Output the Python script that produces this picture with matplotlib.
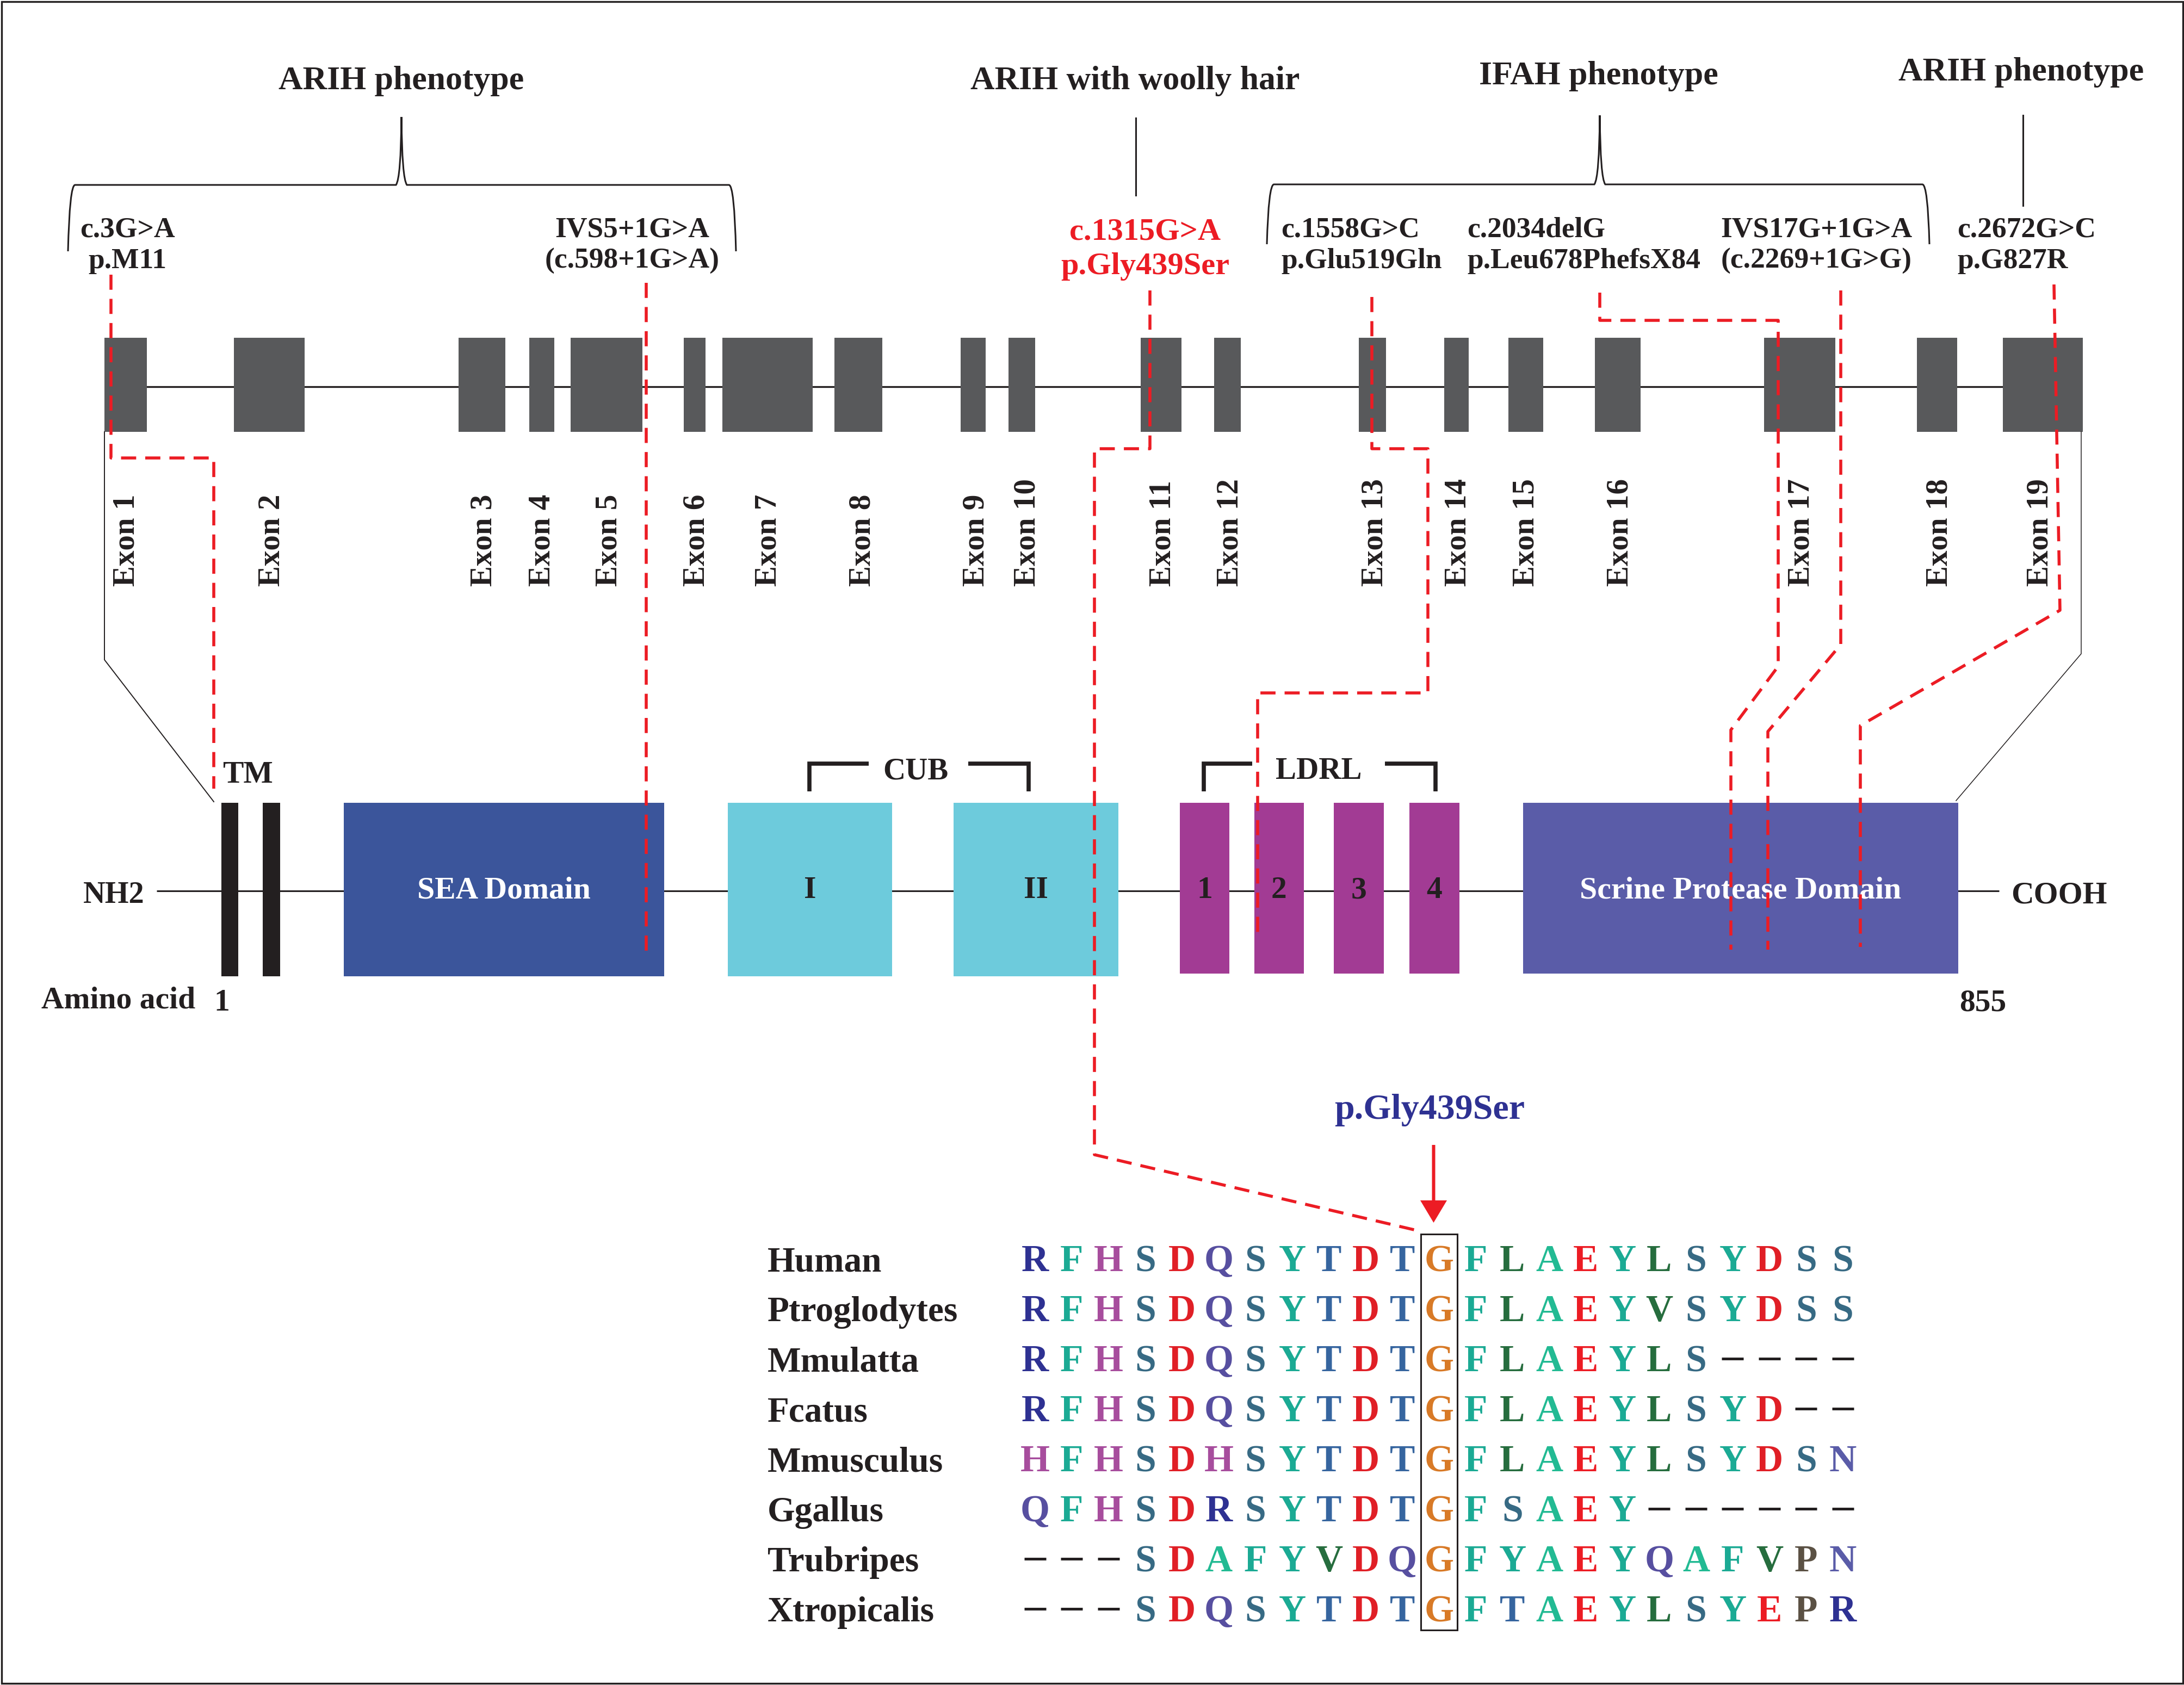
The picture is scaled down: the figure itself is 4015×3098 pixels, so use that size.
import matplotlib
matplotlib.use("Agg")
import matplotlib.pyplot as plt
import matplotlib.patches as patches
from matplotlib.path import Path

plt.rcParams['font.family'] = ['Liberation Serif', 'DejaVu Serif']
plt.rcParams['font.weight'] = 'bold'

W, H = 4016, 3098
RED = '#EC1C24'
INK = '#231F20'

# ---- gene structure (schematic pixel positions) ----
exon_names = [f"Exon {i}" for i in range(1, 20)]
exon_left = [192, 430, 843, 973, 1049, 1257, 1328, 1534, 1766, 1854,
             2097, 2232, 2498, 2655, 2773, 2932, 3243, 3524, 3682]
exon_right = [270, 560, 929, 1019, 1181, 1297, 1494, 1622, 1812, 1903,
              2172, 2281, 2548, 2700, 2837, 3016, 3374, 3598, 3829]
exon_label_x = [229, 496, 886, 993, 1116, 1277, 1409, 1582, 1791, 1885,
                2134, 2258, 2524, 2677, 2802, 2975, 3308, 3562, 3747]

# ---- protein domains ----
domain_labels = ["", "", "SEA Domain", "I", "II", "1", "2", "3", "4", "Scrine Protease Domain"]
domain_left = [407, 483, 632, 1338, 1753, 2169, 2306, 2452, 2591, 2800]
domain_right = [438, 515, 1221, 1640, 2056, 2260, 2397, 2544, 2683, 3600]
domain_bottom = [1795, 1795, 1795, 1795, 1795, 1790, 1790, 1790, 1790, 1790]
domain_colors = [INK, INK, '#3B559B', '#6DCBDC', '#6DCBDC',
                 '#A23B94', '#A23B94', '#A23B94', '#A23B94', '#5A5CA8']
domain_text_colors = [INK, INK, 'white', INK, INK, INK, INK, INK, INK, 'white']

# ---- mutations ----
mut_line1 = ["c.3G>A", "IVS5+1G>A", "c.1315G>A", "c.1558G>C", "c.2034delG", "IVS17G+1G>A", "c.2672G>C"]
mut_line2 = ["p.M11", "(c.598+1G>A)", "p.Gly439Ser", "p.Glu519Gln", "p.Leu678PhefsX84", "(c.2269+1G>G)", "p.G827R"]
mut_x = [234, 1162, 2105, 2355, 2697, 3339, 3598]
mut_ha = ['center', 'center', 'center', 'left', 'left', 'center', 'left']
mut_highlight = [False, False, True, False, False, False, False]

# dashed connectors: mutation -> exon -> protein position
mut_paths = [
    [(204, 505), (204, 842), (393, 842), (393, 1450)],
    [(1188, 520), (1188, 1748)],
    [(2114, 534), (2114, 825), (2012, 825), (2012, 2123), (2608, 2263)],
    [(2522, 546), (2522, 825), (2625, 825), (2625, 1274), (2312, 1274), (2312, 1727)],
    [(2941, 538), (2941, 589), (3269, 589), (3269, 1225), (3182, 1342), (3182, 1746)],
    [(3384, 534), (3384, 1185), (3250, 1345), (3250, 1746)],
    [(3776, 523), (3787, 1122), (3420, 1334), (3420, 1741)],
]

phenotypes = ["ARIH phenotype", "ARIH with woolly hair", "IFAH phenotype", "ARIH phenotype"]
phenotype_x = [738, 2087, 2939, 3716]
phenotype_base = [164, 164, 155, 148]

# ---- alignment ----
species = ["Human", "Ptroglodytes", "Mmulatta", "Fcatus",
           "Mmusculus", "Ggallus", "Trubripes", "Xtropicalis"]
sequences = ["RFHSDQSYTDTGFLAEYLSYDSS",
             "RFHSDQSYTDTGFLAEYVSYDSS",
             "RFHSDQSYTDTGFLAEYLS----",
             "RFHSDQSYTDTGFLAEYLSYD--",
             "HFHSDHSYTDTGFLAEYLSYDSN",
             "QFHSDRSYTDTGFSAEY------",
             "---SDAFYVDQGFYAEYQAFVPN",
             "---SDQSYTDTGFTAEYLSYEPR"]
aa_colors = {'R': '#2E3192', 'F': '#1BAA94', 'H': '#A74D9D', 'S': '#376A84',
             'D': '#E01F26', 'Q': '#574FA0', 'Y': '#1BAA94', 'T': '#36659F',
             'G': '#D87A27', 'L': '#266D3E', 'A': '#22BA93', 'E': '#EC1C24',
             'V': '#266D3E', 'N': '#5A5CA8', 'P': '#5B5144', '-': INK}
site_col = 11


def brace(ax, x0, x1, xm, y_bar, y_end, y_peak):
    verts = [(x0, y_end), (x0 + 3, y_bar), (x0 + 13, y_bar),
             (xm - 10, y_bar), (xm - 1, y_bar - 12), (xm, y_peak),
             (xm + 1, y_bar - 12), (xm + 10, y_bar),
             (x1 - 13, y_bar), (x1 - 3, y_bar), (x1, y_end)]
    codes = [Path.MOVETO, Path.CURVE3, Path.CURVE3, Path.LINETO,
             Path.CURVE3, Path.CURVE3, Path.CURVE3, Path.CURVE3,
             Path.LINETO, Path.CURVE3, Path.CURVE3]
    ax.add_patch(patches.PathPatch(Path(verts, codes), fill=False, lw=2.2, edgecolor=INK))


fig = plt.figure(figsize=(W / 100, H / 100), dpi=100)
ax = fig.add_axes([0, 0, 1, 1])
ax.set_xlim(0, W)
ax.set_ylim(H, 0)
ax.axis('off')

# outer frame
ax.add_patch(patches.Rectangle((3, 3), W - 6, H - 6, fill=False, lw=2.4, edgecolor=INK))

# phenotype headers
for txt, x, yb in zip(phenotypes, phenotype_x, phenotype_base):
    ax.text(x, yb, txt, fontsize=44.5, ha='center', va='baseline', color=INK)
brace(ax, 125, 1353, 738, 340, 462, 215)
brace(ax, 2329, 3547, 2941, 339, 449, 212)
ax.plot([2088, 2088], [217, 359], color=INK, lw=2.2)
ax.plot([3719, 3719], [212, 378], color=INK, lw=2.2)

# mutation labels
for l1, l2, x, ha, hl in zip(mut_line1, mut_line2, mut_x, mut_ha, mut_highlight):
    col = RED if hl else INK
    fs = 42 if hl else 38.5
    off = 5 if hl else 0
    ax.text(x, 435 + off, l1, fontsize=fs, ha=ha, va='baseline', color=col)
    ax.text(x, 493 + off + (6 if hl else 0), l2, fontsize=fs, ha=ha, va='baseline', color=col)

# gene: intron line + exons
ax.plot([exon_left[0] + 5, exon_right[-1] - 5], [711, 711], color=INK, lw=2.4,
        solid_capstyle='butt', zorder=1)
for xl, xr, name, lx in zip(exon_left, exon_right, exon_names, exon_label_x):
    ax.add_patch(patches.Rectangle((xl, 621), xr - xl, 173, color='#58595B', lw=0, zorder=2))
    ax.text(lx + 4, 1078, name, fontsize=41, rotation=90, ha='center', va='bottom', color=INK)

# thin lines linking gene ends to protein ends
ax.plot([exon_left[0], exon_left[0], domain_left[0] - 14], [794, 1213, 1474], color=INK, lw=1.4)
ax.plot([exon_right[-1] - 3, exon_right[-1] - 3, domain_right[-1] - 4], [794, 1202, 1472], color=INK, lw=1.1)

# protein backbone + domains
ax.plot([288, 3675], [1638, 1638], color=INK, lw=2.2, solid_capstyle='butt', zorder=1)
for xl, xr, yb, c, lab, tc in zip(domain_left, domain_right, domain_bottom,
                                  domain_colors, domain_labels, domain_text_colors):
    ax.add_patch(patches.Rectangle((xl, 1476), xr - xl, yb - 1476, color=c, lw=0, zorder=2))
    if lab:
        ax.text((xl + xr) / 2, 1651, lab, fontsize=41.5, ha='center', va='baseline', color=tc, zorder=3)

ax.text(266, 1660, "NH2", fontsize=40.5, ha='right', va='baseline', color=INK)
ax.text(3697, 1660, "COOH", fontsize=41.5, ha='left', va='baseline', color=INK)
ax.text(76, 1853, "Amino acid", fontsize=41.5, ha='left', va='baseline', color=INK)
ax.text(393, 1858, "1", fontsize=41.5, ha='left', va='baseline', color=INK)
ax.text(3602, 1858, "855", fontsize=41.5, ha='left', va='baseline', color=INK)
ax.text(409, 1439, "TM", fontsize=41.5, ha='left', va='baseline', color=INK)

# CUB / LDRL brackets
for xa, xb, xc, xd, lab, lx in [(1488, 1597, 1780, 1891, "CUB", 1683),
                                (2213, 2302, 2546, 2639, "LDRL", 2424)]:
    ax.plot([xa, xa, xb], [1455, 1404, 1404], color=INK, lw=5.5, solid_capstyle='butt', solid_joinstyle='miter')
    ax.plot([xc, xd, xd], [1404, 1404, 1455], color=INK, lw=5.5, solid_capstyle='butt', solid_joinstyle='miter')
    ax.text(lx, 1432, lab, fontsize=41, ha='center', va='baseline', color=INK)

# red dashed connectors
for pts in mut_paths:
    xs = [p[0] for p in pts]
    ys = [p[1] for p in pts]
    ax.plot(xs, ys, color=RED, lw=4.0, linestyle=(0, (5, 3)), zorder=4)

# ---- conservation alignment ----
col_x0, col_step = 1903, 67.5
row_y0, row_step = 2337, 92
for i, (sp, seq) in enumerate(zip(species, sequences)):
    yb = row_y0 + i * row_step
    ax.text(1411, yb, sp, fontsize=47, ha='left', va='baseline', color=INK)
    for j, aa in enumerate(seq):
        xc = col_x0 + j * col_step
        if aa == '-':
            ax.text(xc, yb - 4, '\u2013', fontsize=56, ha='center', va='baseline', color=INK)
        else:
            ax.text(xc, yb, aa, fontsize=50, ha='center', va='baseline', color=aa_colors[aa])

gx = col_x0 + site_col * col_step
ax.add_patch(patches.Rectangle((gx - 33, 2269), 67, 728, fill=False, lw=2.2, edgecolor=INK))
ax.text(gx - 17, 2057, "p.Gly439Ser", fontsize=47.5, ha='center', va='baseline', color='#2E3192')
ax.arrow(gx - 10, 2105, 0, 143, width=6, head_width=49, head_length=41,
         length_includes_head=True, color=RED, lw=0)

fig.savefig("out.png", dpi=100)
